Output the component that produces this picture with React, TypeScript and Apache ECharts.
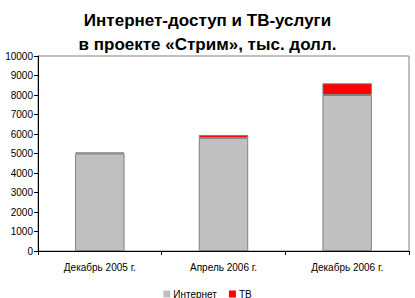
import React, { useEffect, useRef } from "react";
import * as echarts from "echarts";

const categories = ["Декабрь 2005 г.", "Апрель 2006 г.", "Декабрь 2006 г."];
const internetValues = [5000, 5800, 8000];
const tvValues = [50, 150, 600];
const titleLines = ["Интернет-доступ и ТВ-услуги", "в проекте «Стрим», тыс. долл."];

const FONT = "'Liberation Sans Narrow', 'Liberation Sans', Arial, sans-serif";

export default function App() {
  const ref = useRef<HTMLDivElement>(null);
  useEffect(() => {
    if (!ref.current) return;
    const chart = echarts.init(ref.current, null, { renderer: "svg" });
    chart.setOption({
      animation: false,
      backgroundColor: "#ffffff",
      title: {
        text: titleLines.join("\n"),
        left: "center",
        top: 3,
        textStyle: {
          fontFamily: "'Liberation Sans', Arial, sans-serif",
          fontWeight: "bold",
          fontSize: 17,
          lineHeight: 24,
          color: "#000",
        },
      },
      legend: {
        top: 284,
        left: "center",
        itemWidth: 7,
        itemHeight: 7,
        itemGap: 12,
        icon: "rect",
        textStyle: { fontFamily: FONT, fontSize: 10, color: "#000", padding: [0, 0, 0, -2] },
        data: [
          { name: "Интернет", itemStyle: { color: "#C0C0C0", borderColor: "#C0C0C0", borderWidth: 0 } },
          { name: "ТВ", itemStyle: { color: "#FF0000", borderColor: "#FF0000", borderWidth: 0 } },
        ],
      },
      grid: {
        left: 38,
        right: 6,
        top: 56,
        bottom: 47,
        show: true,
        borderColor: "#808080",
        borderWidth: 1,
      },
      xAxis: {
        type: "category",
        data: categories,
        axisLine: { lineStyle: { color: "#000" } },
        axisTick: { show: true, alignWithLabel: false, lineStyle: { color: "#000" }, length: 4 },
        axisLabel: { fontFamily: FONT, fontSize: 10, color: "#000", margin: 11 },
      },
      yAxis: {
        type: "value",
        min: 0,
        max: 10000,
        interval: 1000,
        axisLine: { show: true, lineStyle: { color: "#000" } },
        axisTick: { show: true, lineStyle: { color: "#000" }, length: 4 },
        splitLine: { show: false },
        axisLabel: {
          fontFamily: FONT,
          fontSize: 10,
          color: "#000",
          margin: 5,
          formatter: (v: number) => String(v),
        },
      },
      series: [
        {
          name: "Интернет",
          type: "bar",
          stack: "total",
          barWidth: "40%",
          data: internetValues,
          itemStyle: { color: "#C0C0C0", borderColor: "#808080", borderWidth: 1 },
        },
        {
          name: "ТВ",
          type: "bar",
          stack: "total",
          barWidth: "40%",
          data: tvValues,
          itemStyle: { color: "#FF0000", borderColor: "#808080", borderWidth: 1 },
        },
      ],
    });
    return () => chart.dispose();
  }, []);
  return <div ref={ref} style={{ width: 415, height: 298, position: "absolute", left: 0, top: 0 }} />;
}
